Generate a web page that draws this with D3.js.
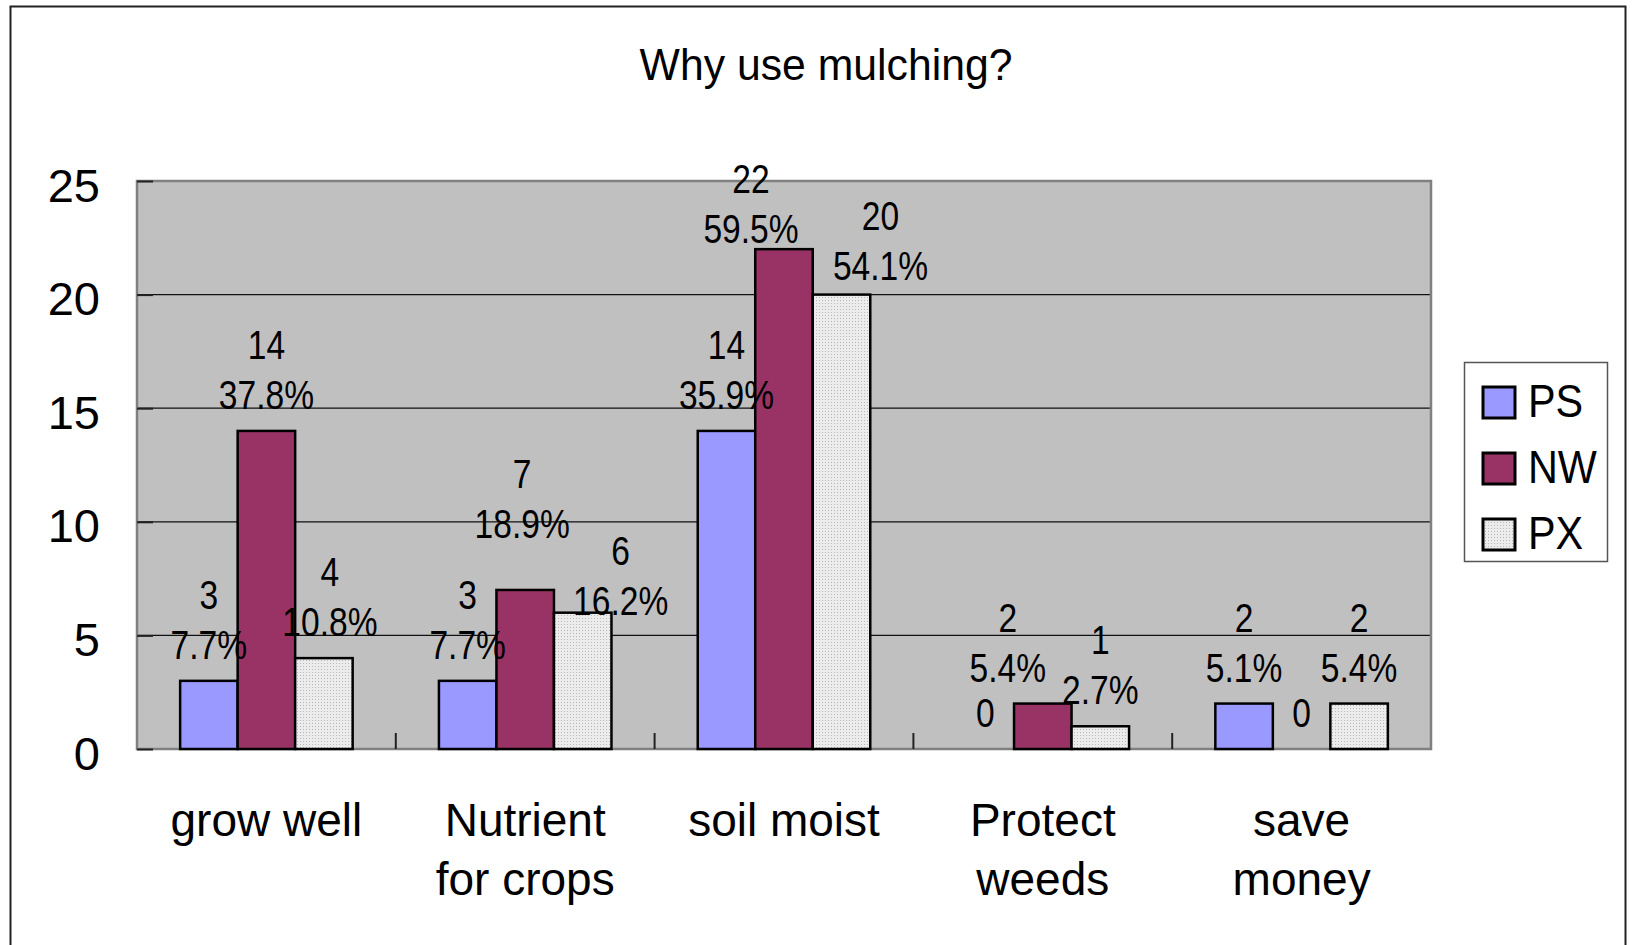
<!DOCTYPE html>
<html>
<head>
<meta charset="utf-8">
<script src="https://cdn.jsdelivr.net/npm/d3@7"></script>
<style>
  body { margin: 0; background: #fff; }
  text { font-family: "Liberation Sans", Arial, sans-serif; fill: #000; }
</style>
</head>
<body>
<div id="chart"></div>
<script>
// Why use mulching? - grouped bars

const categories = ['grow well', 'Nutrient\nfor crops', 'soil moist', 'Protect\nweeds', 'save\nmoney'];
const seriesNames = ['PS', 'NW', 'PX'];
const psValues = [3, 3, 14, 0, 2];
const nwValues = [14, 7, 22, 2, 0];
const pxValues = [4, 6, 20, 1, 2];
const psPercent = ['7.7%', '7.7%', '35.9%', '', '5.1%'];
const nwPercent = ['37.8%', '18.9%', '59.5%', '5.4%', ''];
const pxPercent = ['10.8%', '16.2%', '54.1%', '2.7%', '5.4%'];
const yTicks = [0, 5, 10, 15, 20, 25];

// labels moved by hand in the original
const labelNudge = {
  'PX-0': { dx: 6, dy: 0 },
  'NW-1': { dx: -3, dy: -30 },
  'PX-1': { dx: 38, dy: 24 },
  'NW-2': { dx: -33, dy: 16 },
  'PX-2': { dx: 39, dy: 7 },
  'NW-3': { dx: -35, dy: 0 }
};

const seriesValues = { PS: psValues, NW: nwValues, PX: pxValues };
const seriesPercent = { PS: psPercent, NW: nwPercent, PX: pxPercent };

const W = 1632, H = 945;
const plot = { left: 137, right: 1431, top: 181, bottom: 749 };

const svg = d3.select('#chart')
  .append('svg')
  .attr('width', W)
  .attr('height', H);

// Patrón punteado para PX
const defs = svg.append('defs');
const pat = defs.append('pattern')
  .attr('id', 'dots')
  .attr('width', 3)
  .attr('height', 3)
  .attr('patternUnits', 'userSpaceOnUse');
pat.append('rect').attr('width', 3).attr('height', 3).attr('fill', '#ececec');
pat.append('rect').attr('width', 1).attr('height', 1).attr('fill', '#b8b8b8');

// Marco exterior
svg.append('rect')
  .attr('x', 10.5)
  .attr('y', 6.5)
  .attr('width', 1615)
  .attr('height', 950)
  .attr('fill', '#fff')
  .attr('stroke', '#222')
  .attr('stroke-width', 2);

// Título
svg.append('text')
  .attr('transform', 'translate(826,80) scale(0.95,1)')
  .attr('text-anchor', 'middle')
  .style('font-size', '45px')
  .text('Why use mulching?');

// Escalas
const x0 = d3.scaleBand()
  .domain(categories)
  .range([plot.left, plot.right])
  .padding(0);

const x1 = d3.scaleBand()
  .domain(seriesNames)
  .range([0, x0.bandwidth()])
  .paddingInner(0)
  .paddingOuter(0.75);

const y = d3.scaleLinear()
  .domain([0, 25])
  .range([plot.bottom, plot.top]);

const colors = { PS: '#9999ff', NW: '#993366', PX: 'url(#dots)' };

// Fondo del área de trazado
svg.append('rect')
  .attr('x', plot.left)
  .attr('y', plot.top)
  .attr('width', plot.right - plot.left)
  .attr('height', plot.bottom - plot.top)
  .attr('fill', '#c0c0c0');

// Líneas de cuadrícula
svg.append('g')
  .selectAll('line')
  .data(yTicks.filter(d => d > 0 && d < 25))
  .enter()
  .append('line')
  .attr('x1', plot.left)
  .attr('x2', plot.right)
  .attr('y1', d => y(d))
  .attr('y2', d => y(d))
  .attr('stroke', '#111')
  .attr('stroke-width', 1.2);

// Borde del área
svg.append('rect')
  .attr('x', plot.left)
  .attr('y', plot.top)
  .attr('width', plot.right - plot.left)
  .attr('height', plot.bottom - plot.top)
  .attr('fill', 'none')
  .attr('stroke', '#808080')
  .attr('stroke-width', 2.5);

// Eje Y
const yAxis = svg.append('g')
  .attr('transform', `translate(${plot.left},0)`)
  .call(d3.axisLeft(y).tickValues(yTicks).tickSize(-16).tickPadding(37));
yAxis.select('.domain').remove();
yAxis.selectAll('.tick line').attr('stroke', '#222').attr('stroke-width', 2);
yAxis.selectAll('.tick text')
  .attr('fill', '#000')
  .attr('y', 5)
  .style('font-size', '47px')
  .style('font-family', '"Liberation Sans", Arial, sans-serif');

// Marcas del eje X en los límites de cada grupo
svg.append('g')
  .selectAll('line')
  .data(categories.slice(1))
  .enter()
  .append('line')
  .attr('x1', d => x0(d))
  .attr('x2', d => x0(d))
  .attr('y1', plot.bottom)
  .attr('y2', plot.bottom - 16)
  .attr('stroke', '#222')
  .attr('stroke-width', 2);

// Eje X (etiquetas en dos líneas)
const xAxis = svg.append('g')
  .attr('transform', `translate(0,${plot.bottom})`)
  .call(d3.axisBottom(x0).tickSize(0).tickPadding(0));
xAxis.select('.domain').remove();
xAxis.selectAll('.tick text')
  .attr('y', 0)
  .attr('dy', null)
  .style('font-size', '46px')
  .style('font-family', '"Liberation Sans", Arial, sans-serif')
  .attr('fill', '#000')
  .text(null)
  .each(function(d) {
    const t = d3.select(this);
    d.split('\n').forEach((line, i) => {
      t.append('tspan')
        .attr('x', 0)
        .attr('y', 87 + i * 59)
        .text(line);
    });
  });

// Barras
const rows = [];
categories.forEach((c, j) => {
  seriesNames.forEach(s => {
    rows.push({ cat: c, j: j, series: s, value: seriesValues[s][j], pct: seriesPercent[s][j] });
  });
});

svg.append('g')
  .selectAll('rect')
  .data(rows.filter(d => d.value > 0))
  .enter()
  .append('rect')
  .attr('x', d => x0(d.cat) + x1(d.series))
  .attr('y', d => y(d.value))
  .attr('width', x1.bandwidth())
  .attr('height', d => y(0) - y(d.value))
  .attr('fill', d => colors[d.series])
  .attr('stroke', '#000')
  .attr('stroke-width', 2.5);

// Etiquetas de valores
const labels = svg.append('g');
rows.forEach(d => {
  const n = labelNudge[d.series + '-' + d.j] || { dx: 0, dy: 0 };
  const cx = x0(d.cat) + x1(d.series) + x1.bandwidth() / 2 + n.dx;
  const base = y(d.value) - 22 + n.dy;
  const lines = d.pct ? [String(d.value), d.pct] : [String(d.value)];
  lines.forEach((txt, i) => {
    const ly = base - (lines.length - 1 - i) * 50;
    labels.append('text')
      .attr('transform', `translate(${cx},${ly}) scale(0.84,1)`)
      .attr('text-anchor', 'middle')
      .style('font-size', '40px')
      .text(txt);
  });
});

// Leyenda
const legend = svg.append('g');
legend.append('rect')
  .attr('x', 1464.5)
  .attr('y', 362.5)
  .attr('width', 143)
  .attr('height', 199)
  .attr('fill', '#fff')
  .attr('stroke', '#555')
  .attr('stroke-width', 1.5);

seriesNames.forEach((s, i) => {
  legend.append('rect')
    .attr('x', 1483)
    .attr('y', 387 + i * 66)
    .attr('width', 32)
    .attr('height', 31)
    .attr('fill', colors[s])
    .attr('stroke', '#000')
    .attr('stroke-width', 3);
  legend.append('text')
    .attr('transform', `translate(1528,${417 + i * 66}) scale(0.88,1)`)
    .style('font-size', '47px')
    .text(s);
});
</script>
</body>
</html>
